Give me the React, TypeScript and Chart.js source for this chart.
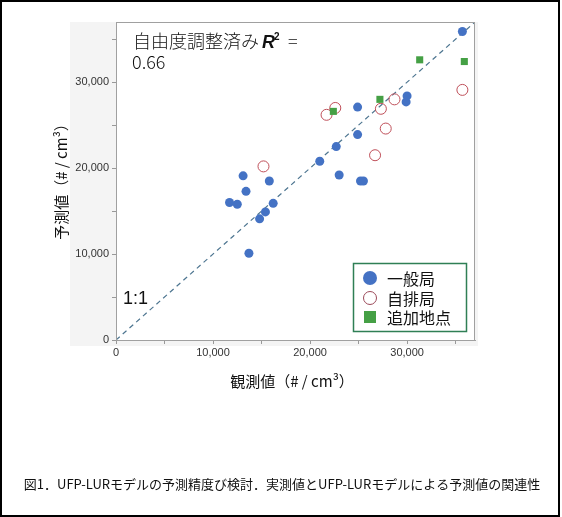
import React, { useEffect, useRef } from 'react';
import { Chart, registerables } from 'chart.js';

Chart.register(...registerables);

// ---- data ----
const seriesNames = ['一般局', '自排局', '追加地点'];
const ippanX = [11700, 12500, 13100, 13400, 13700, 14800, 15400, 15800, 16200, 21000, 22700, 23000, 24900, 24900, 25200, 25500, 29900, 30000, 35700];
const ippanY = [16000, 15800, 19100, 17300, 10100, 14100, 14900, 18500, 15900, 20800, 22500, 19200, 27100, 23900, 18500, 18500, 27700, 28400, 35900];
const jihaiX = [15200, 21700, 22600, 26700, 27300, 27800, 28700, 35700];
const jihaiY = [20200, 26200, 27000, 21500, 26900, 24600, 28000, 29100];
const tsuikaX = [22400, 27200, 31300, 35900];
const tsuikaY = [26600, 28000, 32600, 32400];
const oneToOne = [0, 37000];
const axisMin = 0;
const axisMax = 37000;
const tickValues = [0, 5000, 10000, 15000, 20000, 25000, 30000, 35000];
const tickLabels = ['0', '', '10,000', '', '20,000', '', '30,000', ''];
const xTitle = '観測値（# / cm³）';
const yTitle = '予測値（# / cm³）';
const r2Prefix = '自由度調整済み';
const r2Value = '0.66';
const lineLabel = '1:1';
const caption = '図1．UFP-LURモデルの予測精度び検討．実測値とUFP-LURモデルによる予測値の関連性';

const BLUE = '#4472c4';
const RED = '#c0505a';
const GREEN = '#45a045';
const CJK = '"Noto Sans CJK JP", "Noto Sans", sans-serif';

const pts = (xs: number[], ys: number[]) => xs.map((x, i) => ({ x, y: ys[i] }));

export default function App() {
  const ref = useRef<HTMLCanvasElement | null>(null);

  useEffect(() => {
    document.body.style.margin = '0';
    const canvas = ref.current;
    if (!canvas) return;

    const decor = {
      id: 'decor',
      beforeDraw(chart: any) {
        const { ctx, chartArea: a } = chart;
        ctx.save();
        ctx.fillStyle = '#ffffff';
        ctx.fillRect(0, 0, chart.width, chart.height);
        ctx.fillStyle = '#f4f4f4';
        ctx.fillRect(70, a.top, a.right + 3 - 70, a.bottom + 6 - a.top);
        ctx.fillStyle = '#ffffff';
        ctx.fillRect(a.left, a.top, a.right - a.left, a.bottom - a.top);
        ctx.restore();
      },
      afterDraw(chart: any) {
        const { ctx, chartArea: a } = chart;
        ctx.save();
        // plot frame
        ctx.strokeStyle = '#a0a0a0';
        ctx.lineWidth = 1;
        ctx.strokeRect(a.left + 0.5, a.top + 0.5, a.right - a.left - 1, a.bottom - a.top);

        // R2 annotation
        ctx.fillStyle = '#111';
        ctx.textBaseline = 'alphabetic';
        ctx.textAlign = 'left';
        ctx.font = `300 18px ${CJK}`;
        let x = 133;
        ctx.fillText(r2Prefix, x, 48);
        x += ctx.measureText(r2Prefix).width + 3;
        ctx.font = `italic bold 18px "Liberation Sans", Arial, sans-serif`;
        ctx.fillText('R', x, 48);
        x += ctx.measureText('R').width - 1;
        ctx.font = `bold 10px "Liberation Sans", Arial, sans-serif`;
        ctx.fillText('2', x, 40);
        x += 14;
        ctx.font = `300 18px ${CJK}`;
        ctx.fillText('=', x, 48);
        ctx.fillText(r2Value, 132, 69);

        // 1:1 label
        ctx.font = `18px "Liberation Sans", Arial, sans-serif`;
        ctx.textBaseline = 'middle';
        ctx.fillText(lineLabel, 123, 299);

        // legend
        const lx = 353, ly = 263, lw = 113, lh = 68;
        ctx.fillStyle = '#ffffff';
        ctx.fillRect(lx, ly, lw, lh);
        ctx.strokeStyle = '#2f7f55';
        ctx.lineWidth = 1.5;
        ctx.strokeRect(lx + 0.5, ly + 0.5, lw, lh);
        const rows = [278, 298, 317];
        ctx.fillStyle = BLUE;
        ctx.beginPath(); ctx.arc(370, rows[0], 7, 0, Math.PI * 2); ctx.fill();
        ctx.strokeStyle = '#9c4a5a';
        ctx.lineWidth = 1;
        ctx.beginPath(); ctx.arc(370, rows[1], 6.5, 0, Math.PI * 2); ctx.stroke();
        ctx.fillStyle = GREEN;
        ctx.fillRect(364, rows[2] - 6, 12, 12);
        ctx.fillStyle = '#111';
        ctx.font = `16px ${CJK}`;
        ctx.textBaseline = 'middle';
        seriesNames.forEach((n, i) => ctx.fillText(n, 387, rows[i] + 1));

        // axis titles
        ctx.font = `15px ${CJK}`;
        ctx.textAlign = 'center';
        ctx.fillText(xTitle, 292, 381);
        ctx.save();
        ctx.translate(61, 178);
        ctx.rotate(-Math.PI / 2);
        ctx.fillText(yTitle, 0, 0);
        ctx.restore();

        // caption
        ctx.font = `13px ${CJK}`;
        ctx.textAlign = 'center';
        ctx.fillStyle = '#111';
        ctx.fillText(caption, 282, 484);

        // outer border
        ctx.strokeStyle = '#000';
        ctx.lineWidth = 2;
        ctx.strokeRect(1, 1, 558, 515);
        ctx.restore();
      },
    };

    const tickFont = { family: '"Liberation Sans", Arial, sans-serif', size: 11 };
    const setTicks = (s: any) => { s.ticks = tickValues.map((v) => ({ value: v })); };
    const tickCb = (_v: any, i: number) => tickLabels[i] ?? '';

    const chart = new Chart(canvas, {
      type: 'scatter',
      data: {
        datasets: [
          {
            type: 'line',
            label: lineLabel,
            data: oneToOne.map((v) => ({ x: v, y: v })),
            borderColor: '#4d7590',
            borderWidth: 1.2,
            borderDash: [5, 4],
            pointRadius: 0,
            fill: false,
            order: 3,
          } as any,
          {
            label: seriesNames[0],
            data: pts(ippanX, ippanY),
            backgroundColor: BLUE,
            borderColor: BLUE,
            borderWidth: 0,
            pointRadius: 4.5,
            pointStyle: 'circle',
            order: 2,
          },
          {
            label: seriesNames[1],
            data: pts(jihaiX, jihaiY),
            backgroundColor: 'rgba(255,255,255,0)',
            borderColor: RED,
            borderWidth: 1,
            pointRadius: 5.5,
            pointStyle: 'circle',
            order: 1,
          },
          {
            label: seriesNames[2],
            data: pts(tsuikaX, tsuikaY),
            backgroundColor: GREEN,
            borderColor: GREEN,
            borderWidth: 0,
            pointRadius: 5,
            pointStyle: 'rect',
            order: 0,
          },
        ],
      },
      options: {
        responsive: false,
        animation: false,
        devicePixelRatio: 1,
        layout: { padding: { left: 0, top: 22, right: 87, bottom: 0 } },
        plugins: { legend: { display: false }, tooltip: { enabled: false } },
        scales: {
          x: {
            type: 'linear',
            min: axisMin,
            max: axisMax,
            afterBuildTicks: setTicks,
            afterFit: (s: any) => { s.height = 177; },
            ticks: { autoSkip: false, maxRotation: 0, callback: tickCb, color: '#333', font: tickFont, padding: 2 },
            grid: { drawOnChartArea: false, drawTicks: true, tickLength: 4, color: '#999' },
            border: { display: true, color: '#a0a0a0' },
          },
          y: {
            type: 'linear',
            min: axisMin,
            max: axisMax,
            afterBuildTicks: setTicks,
            afterFit: (s: any) => { s.width = 116; },
            ticks: { autoSkip: false, callback: tickCb, color: '#333', font: tickFont, padding: 3 },
            grid: { drawOnChartArea: false, drawTicks: true, tickLength: 4, color: '#999' },
            border: { display: true, color: '#a0a0a0' },
          },
        },
      },
      plugins: [decor],
    });
    return () => chart.destroy();
  }, []);

  return (
    <div style={{ width: 562, height: 517 }}>
      <canvas ref={ref} width={562} height={517} style={{ display: 'block' }} />
    </div>
  );
}
